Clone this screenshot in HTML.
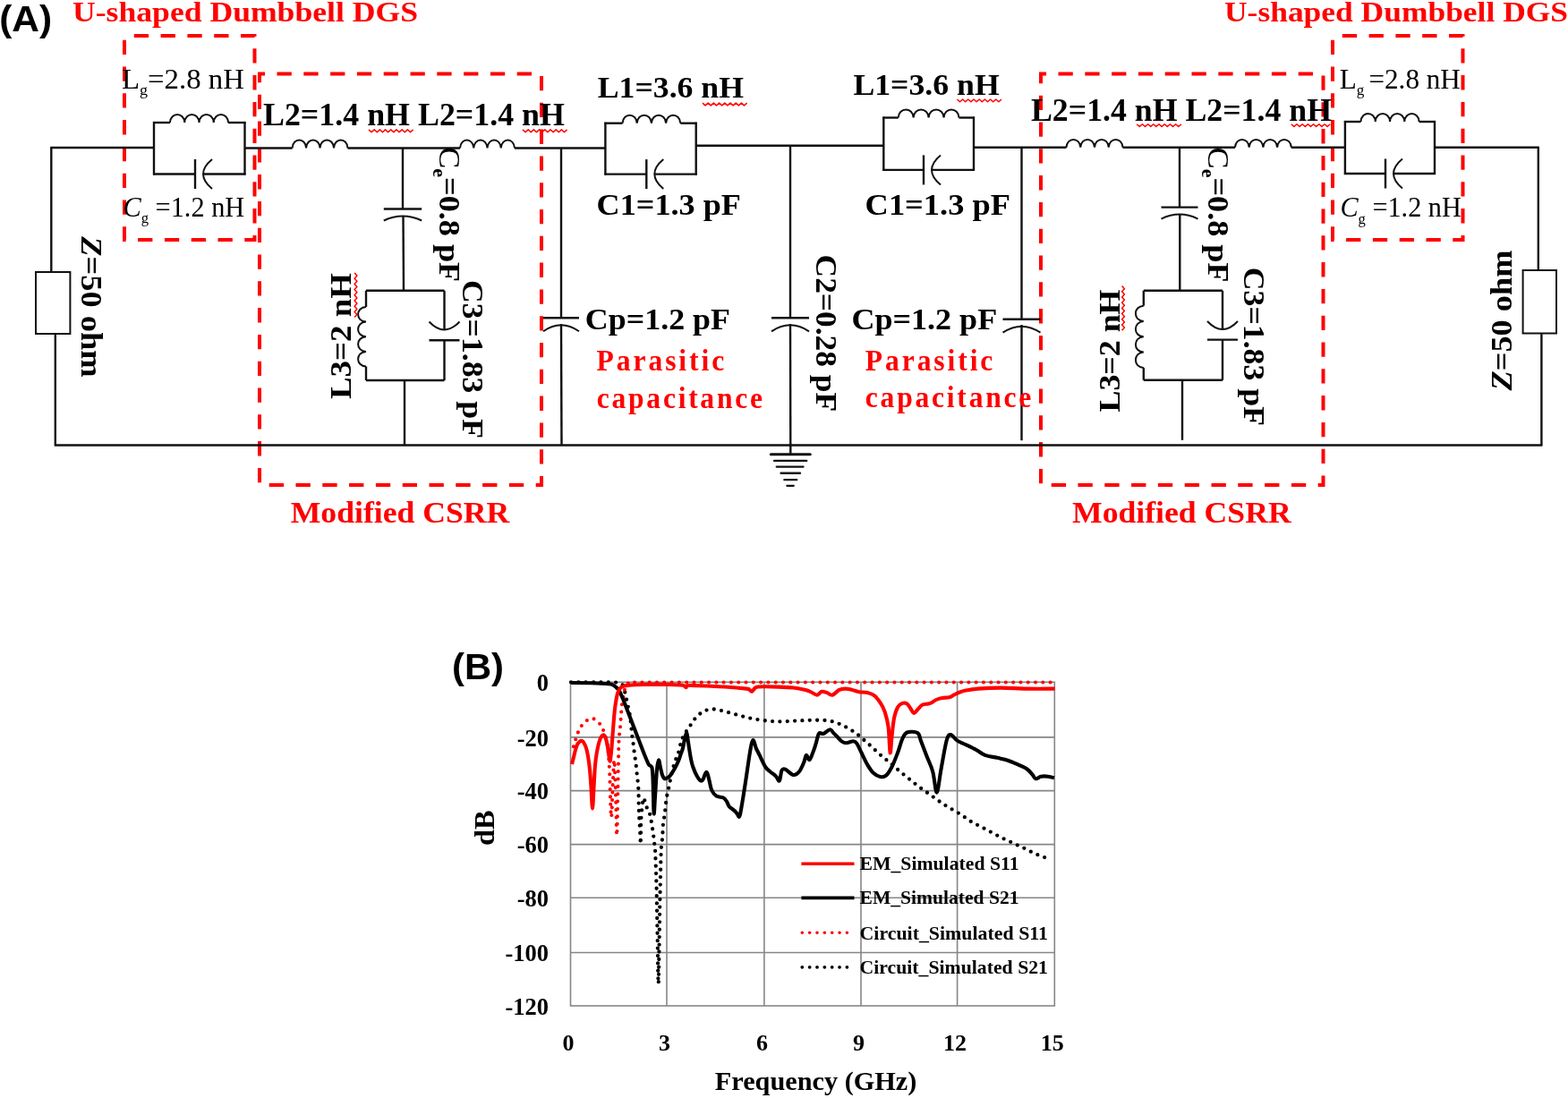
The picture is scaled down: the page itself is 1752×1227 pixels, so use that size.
<!DOCTYPE html>
<html><head><meta charset="utf-8"><title>Figure</title>
<style>html,body{margin:0;padding:0;background:#fff;} svg{display:block;}</style></head>
<body>
<svg width="1752" height="1227" viewBox="0 0 1752 1227">
<rect width="1752" height="1227" fill="#fff"/>
<g id="circuit">
<rect x="139" y="40" width="145.5" height="228" fill="none" stroke="#ff0000" stroke-width="4" stroke-dasharray="16.3 13.5" stroke-dashoffset="19.0"/>
<rect x="290" y="82.5" width="315" height="459.5" fill="none" stroke="#ff0000" stroke-width="4" stroke-dasharray="16.3 13.5" stroke-dashoffset="10.3"/>
<rect x="1163" y="82.5" width="315.5" height="459.5" fill="none" stroke="#ff0000" stroke-width="4" stroke-dasharray="16.3 13.5" stroke-dashoffset="10.3"/>
<rect x="1489" y="40" width="145.5" height="228" fill="none" stroke="#ff0000" stroke-width="4" stroke-dasharray="16.3 13.5" stroke-dashoffset="19.0"/>
<line x1="57.3" y1="164.5" x2="57.3" y2="304" stroke="#111" stroke-width="2.4"/>
<rect x="40" y="304" width="38.4" height="69" fill="none" stroke="#111" stroke-width="2"/>
<line x1="61.8" y1="373" x2="61.8" y2="497.5" stroke="#111" stroke-width="2.4"/>
<line x1="60.8" y1="497.5" x2="1723.4" y2="497.5" stroke="#111" stroke-width="2.4"/>
<line x1="1718.8" y1="164.7" x2="1718.8" y2="302" stroke="#111" stroke-width="2.4"/>
<rect x="1701.6" y="302" width="37.4" height="70.5" fill="none" stroke="#111" stroke-width="2"/>
<line x1="1722.4" y1="372.5" x2="1722.4" y2="497.5" stroke="#111" stroke-width="2.4"/>
<line x1="56.3" y1="165" x2="172" y2="165" stroke="#111" stroke-width="2.4"/>
<line x1="172" y1="136" x2="172" y2="195.5" stroke="#111" stroke-width="2.4"/>
<line x1="273.5" y1="136" x2="273.5" y2="195.5" stroke="#111" stroke-width="2.4"/>
<line x1="171" y1="137" x2="190" y2="137" stroke="#111" stroke-width="2.4"/>
<path d="M190,137 C190.50,125.12 205.75,125.12 206.25,137 C206.75,125.12 222.00,125.12 222.50,137 C223.00,125.12 238.25,125.12 238.75,137 C239.25,125.12 254.50,125.12 255.00,137" fill="none" stroke="#111" stroke-width="2"/>
<line x1="255" y1="137" x2="274.5" y2="137" stroke="#111" stroke-width="2.4"/>
<line x1="171" y1="194.5" x2="218" y2="194.5" stroke="#111" stroke-width="2.4"/>
<line x1="227" y1="194.5" x2="274.5" y2="194.5" stroke="#111" stroke-width="2.4"/>
<line x1="218" y1="178.0" x2="218" y2="211.0" stroke="#111" stroke-width="2.4"/>
<path d="M237,178.0 Q217.00,194.5 237,211.0" fill="none" stroke="#111" stroke-width="2"/>
<line x1="273.5" y1="165.5" x2="326.6" y2="165.5" stroke="#111" stroke-width="2.4"/>
<path d="M326.6,165.5 C327.10,153.62 341.58,153.62 342.08,165.5 C342.58,153.62 357.05,153.62 357.55,165.5 C358.05,153.62 372.52,153.62 373.02,165.5 C373.52,153.62 388.00,153.62 388.50,165.5" fill="none" stroke="#111" stroke-width="2"/>
<line x1="388.5" y1="165.5" x2="514" y2="165.5" stroke="#111" stroke-width="2.4"/>
<path d="M514,165.5 C514.50,153.62 528.75,153.62 529.25,165.5 C529.75,153.62 544.00,153.62 544.50,165.5 C545.00,153.62 559.25,153.62 559.75,165.5 C560.25,153.62 574.50,153.62 575.00,165.5" fill="none" stroke="#111" stroke-width="2"/>
<line x1="575" y1="165.5" x2="676.4" y2="165.5" stroke="#111" stroke-width="2.4"/>
<line x1="676.4" y1="136.7" x2="676.4" y2="195.6" stroke="#111" stroke-width="2.4"/>
<line x1="777.7" y1="136.7" x2="777.7" y2="195.6" stroke="#111" stroke-width="2.4"/>
<line x1="675.4" y1="137.7" x2="695.5" y2="137.7" stroke="#111" stroke-width="2.4"/>
<path d="M695.5,137.7 C696.00,125.82 711.20,125.82 711.70,137.7 C712.20,125.82 727.40,125.82 727.90,137.7 C728.40,125.82 743.60,125.82 744.10,137.7 C744.60,125.82 759.80,125.82 760.30,137.7" fill="none" stroke="#111" stroke-width="2"/>
<line x1="760.3" y1="137.7" x2="778.7" y2="137.7" stroke="#111" stroke-width="2.4"/>
<line x1="675.4" y1="194.6" x2="722.3" y2="194.6" stroke="#111" stroke-width="2.4"/>
<line x1="731.3" y1="194.6" x2="778.7" y2="194.6" stroke="#111" stroke-width="2.4"/>
<line x1="722.3" y1="178.1" x2="722.3" y2="211.1" stroke="#111" stroke-width="2.4"/>
<path d="M741.3,178.1 Q721.30,194.6 741.3,211.1" fill="none" stroke="#111" stroke-width="2"/>
<line x1="777.7" y1="162.7" x2="987.3" y2="162.7" stroke="#111" stroke-width="2.4"/>
<line x1="987.3" y1="130.5" x2="987.3" y2="190.9" stroke="#111" stroke-width="2.4"/>
<line x1="1088" y1="130.5" x2="1088" y2="190.9" stroke="#111" stroke-width="2.4"/>
<line x1="986.3" y1="131.5" x2="1003.7" y2="131.5" stroke="#111" stroke-width="2.4"/>
<path d="M1003.7,131.5 C1004.20,119.62 1020.15,119.62 1020.65,131.5 C1021.15,119.62 1037.10,119.62 1037.60,131.5 C1038.10,119.62 1054.05,119.62 1054.55,131.5 C1055.05,119.62 1071.00,119.62 1071.50,131.5" fill="none" stroke="#111" stroke-width="2"/>
<line x1="1071.5" y1="131.5" x2="1089" y2="131.5" stroke="#111" stroke-width="2.4"/>
<line x1="986.3" y1="189.9" x2="1032" y2="189.9" stroke="#111" stroke-width="2.4"/>
<line x1="1041" y1="189.9" x2="1089" y2="189.9" stroke="#111" stroke-width="2.4"/>
<line x1="1032" y1="173.4" x2="1032" y2="206.4" stroke="#111" stroke-width="2.4"/>
<path d="M1051,173.4 Q1031.00,189.9 1051,206.4" fill="none" stroke="#111" stroke-width="2"/>
<line x1="1088" y1="164.8" x2="1191.5" y2="164.8" stroke="#111" stroke-width="2.4"/>
<path d="M1191.5,164.8 C1192.00,152.93 1206.75,152.93 1207.25,164.8 C1207.75,152.93 1222.50,152.93 1223.00,164.8 C1223.50,152.93 1238.25,152.93 1238.75,164.8 C1239.25,152.93 1254.00,152.93 1254.50,164.8" fill="none" stroke="#111" stroke-width="2"/>
<line x1="1254.5" y1="164.8" x2="1380" y2="164.8" stroke="#111" stroke-width="2.4"/>
<path d="M1380,164.8 C1380.50,152.93 1395.20,152.93 1395.70,164.8 C1396.20,152.93 1410.90,152.93 1411.40,164.8 C1411.90,152.93 1426.60,152.93 1427.10,164.8 C1427.60,152.93 1442.30,152.93 1442.80,164.8" fill="none" stroke="#111" stroke-width="2"/>
<line x1="1442.8" y1="164.8" x2="1502.9" y2="164.8" stroke="#111" stroke-width="2.4"/>
<line x1="1502.9" y1="135" x2="1502.9" y2="195" stroke="#111" stroke-width="2.4"/>
<line x1="1603" y1="135" x2="1603" y2="195" stroke="#111" stroke-width="2.4"/>
<line x1="1501.9" y1="136" x2="1520.5" y2="136" stroke="#111" stroke-width="2.4"/>
<path d="M1520.5,136 C1521.00,124.12 1536.28,124.12 1536.78,136 C1537.28,124.12 1552.55,124.12 1553.05,136 C1553.55,124.12 1568.82,124.12 1569.32,136 C1569.82,124.12 1585.10,124.12 1585.60,136" fill="none" stroke="#111" stroke-width="2"/>
<line x1="1585.6" y1="136" x2="1604" y2="136" stroke="#111" stroke-width="2.4"/>
<line x1="1501.9" y1="194" x2="1548" y2="194" stroke="#111" stroke-width="2.4"/>
<line x1="1557" y1="194" x2="1604" y2="194" stroke="#111" stroke-width="2.4"/>
<line x1="1548" y1="177.5" x2="1548" y2="210.5" stroke="#111" stroke-width="2.4"/>
<path d="M1567,177.5 Q1547.00,194 1567,210.5" fill="none" stroke="#111" stroke-width="2"/>
<line x1="1603" y1="164.7" x2="1719.8" y2="164.7" stroke="#111" stroke-width="2.4"/>
<line x1="450" y1="165.5" x2="450" y2="233.5" stroke="#111" stroke-width="2.4"/>
<line x1="428.8" y1="233.5" x2="471.2" y2="233.5" stroke="#111" stroke-width="2.4"/>
<path d="M428.8,246.5 Q450,236.5 471.2,246.5" fill="none" stroke="#111" stroke-width="2"/>
<line x1="450.5" y1="241.5" x2="451" y2="324.8" stroke="#111" stroke-width="2.4"/>
<line x1="409" y1="324.8" x2="496.5" y2="324.8" stroke="#111" stroke-width="2.4"/>
<line x1="409" y1="425" x2="496.5" y2="425" stroke="#111" stroke-width="2.4"/>
<line x1="409" y1="324.8" x2="409" y2="343" stroke="#111" stroke-width="2.4"/>
<path d="M409,343 C397.12,343.50 397.12,359.12 409,359.62 C397.12,360.12 397.12,375.75 409,376.25 C397.12,376.75 397.12,392.38 409,392.88 C397.12,393.38 397.12,409.00 409,409.50" fill="none" stroke="#111" stroke-width="2"/>
<line x1="409" y1="409.5" x2="409" y2="425" stroke="#111" stroke-width="2.4"/>
<line x1="496.5" y1="324.8" x2="496.5" y2="368.5" stroke="#111" stroke-width="2.4"/>
<line x1="496.5" y1="380.3" x2="496.5" y2="425" stroke="#111" stroke-width="2.4"/>
<line x1="479.5" y1="380.3" x2="513.5" y2="380.3" stroke="#111" stroke-width="2.4"/>
<path d="M479.5,359.5 Q496.5,377.5 513.5,359.5" fill="none" stroke="#111" stroke-width="2"/>
<line x1="452" y1="425" x2="452" y2="497.5" stroke="#111" stroke-width="2.4"/>
<line x1="627" y1="165.5" x2="627" y2="355.3" stroke="#111" stroke-width="2.4"/>
<line x1="607" y1="355.3" x2="647" y2="355.3" stroke="#111" stroke-width="2.4"/>
<path d="M607,370.3 Q627,356.3 647,370.3" fill="none" stroke="#111" stroke-width="2"/>
<line x1="627" y1="362" x2="627.5" y2="497.5" stroke="#111" stroke-width="2.4"/>
<line x1="883" y1="162.7" x2="883" y2="355.3" stroke="#111" stroke-width="2.4"/>
<line x1="862" y1="355.3" x2="904" y2="355.3" stroke="#111" stroke-width="2.4"/>
<path d="M862,370.3 Q883,356.3 904,370.3" fill="none" stroke="#111" stroke-width="2"/>
<line x1="883" y1="362" x2="883.3" y2="507.5" stroke="#111" stroke-width="2.4"/>
<line x1="861.3" y1="507.8" x2="905.3" y2="507.8" stroke="#111" stroke-width="3" stroke-linecap="round"/>
<line x1="865" y1="514.9" x2="901.3" y2="514.9" stroke="#111" stroke-width="2.2" stroke-linecap="round"/>
<line x1="867.7" y1="521.6" x2="897.6" y2="521.6" stroke="#111" stroke-width="2.2" stroke-linecap="round"/>
<line x1="872.6" y1="528.7" x2="893.9" y2="528.7" stroke="#111" stroke-width="2.4" stroke-linecap="round"/>
<line x1="876.3" y1="536.2" x2="890.3" y2="536.2" stroke="#111" stroke-width="2.2" stroke-linecap="round"/>
<line x1="879.3" y1="542.8" x2="886.8" y2="542.8" stroke="#111" stroke-width="2.2" stroke-linecap="round"/>
<line x1="1141.5" y1="164.8" x2="1141.5" y2="356.7" stroke="#111" stroke-width="2.4"/>
<line x1="1120.5" y1="356.7" x2="1162.5" y2="356.7" stroke="#111" stroke-width="2.4"/>
<path d="M1120.5,371.7 Q1141.5,357.7 1162.5,371.7" fill="none" stroke="#111" stroke-width="2"/>
<line x1="1141.5" y1="363" x2="1141.5" y2="492.2" stroke="#111" stroke-width="2.4"/>
<line x1="1318" y1="164.8" x2="1318" y2="231.6" stroke="#111" stroke-width="2.4"/>
<line x1="1297.5" y1="231.6" x2="1338.5" y2="231.6" stroke="#111" stroke-width="2.4"/>
<path d="M1297.5,244.6 Q1318,234.6 1338.5,244.6" fill="none" stroke="#111" stroke-width="2"/>
<line x1="1318.3" y1="239.5" x2="1318.3" y2="324.8" stroke="#111" stroke-width="2.4"/>
<line x1="1277.8" y1="324.8" x2="1366" y2="324.8" stroke="#111" stroke-width="2.4"/>
<line x1="1277.8" y1="424.7" x2="1366" y2="424.7" stroke="#111" stroke-width="2.4"/>
<line x1="1277.8" y1="324.8" x2="1277.8" y2="341.7" stroke="#111" stroke-width="2.4"/>
<path d="M1277.8,341.7 C1265.92,342.20 1265.92,358.50 1277.8,359.00 C1265.92,359.50 1265.92,375.80 1277.8,376.30 C1265.92,376.80 1265.92,393.10 1277.8,393.60 C1265.92,394.10 1265.92,410.40 1277.8,410.90" fill="none" stroke="#111" stroke-width="2"/>
<line x1="1277.8" y1="410.9" x2="1277.8" y2="424.7" stroke="#111" stroke-width="2.4"/>
<line x1="1366" y1="324.8" x2="1366" y2="368" stroke="#111" stroke-width="2.4"/>
<line x1="1366" y1="379.6" x2="1366" y2="424.7" stroke="#111" stroke-width="2.4"/>
<line x1="1349" y1="379.6" x2="1383" y2="379.6" stroke="#111" stroke-width="2.4"/>
<path d="M1349,359 Q1366,377 1383,359" fill="none" stroke="#111" stroke-width="2"/>
<line x1="1321" y1="424.7" x2="1321" y2="491.8" stroke="#111" stroke-width="2.4"/>
<text x="-0.8" y="34.6" font-family='"Liberation Sans", Arial, sans-serif' font-size="41.5" font-weight="bold" fill="#000" textLength="59" lengthAdjust="spacingAndGlyphs">(A)</text>
<text x="81" y="24.2" font-family='"Liberation Serif", serif' font-size="32" font-weight="bold" fill="#ff0000" textLength="386" lengthAdjust="spacingAndGlyphs">U-shaped Dumbbell DGS</text>
<text x="1368" y="24.2" font-family='"Liberation Serif", serif' font-size="32" font-weight="bold" fill="#ff0000" textLength="384" lengthAdjust="spacingAndGlyphs">U-shaped Dumbbell DGS</text>
<text x="136" y="99" font-family='"Liberation Serif", serif' font-size="31" font-weight="normal" fill="#000" textLength="137" lengthAdjust="spacingAndGlyphs">L<tspan font-size="17" dy="7.2">g</tspan><tspan dx="0" dy="-7.2">=2.8 nH</tspan></text>
<text x="137.4" y="242" font-family='"Liberation Serif", serif' font-size="31" font-weight="normal" fill="#000" textLength="135.8" lengthAdjust="spacingAndGlyphs"><tspan font-style="italic">C</tspan><tspan font-size="17" dy="7.2">g</tspan><tspan dy="-7.2"> =1.2 nH</tspan></text>
<text x="1496.8" y="99" font-family='"Liberation Serif", serif' font-size="31" font-weight="normal" fill="#000" textLength="135.1" lengthAdjust="spacingAndGlyphs">L<tspan font-size="17" dy="7.2">g</tspan><tspan dx="5" dy="-7.2">=2.8 nH</tspan></text>
<text x="1497.4" y="242.3" font-family='"Liberation Serif", serif' font-size="31" font-weight="normal" fill="#000" textLength="135.4" lengthAdjust="spacingAndGlyphs"><tspan font-style="italic">C</tspan><tspan font-size="17" dy="7.2">g</tspan><tspan dy="-7.2"> =1.2 nH</tspan></text>
<text x="294" y="140" font-family='"Liberation Serif", serif' font-size="35" font-weight="bold" fill="#000" textLength="337" lengthAdjust="spacingAndGlyphs">L2=1.4 nH L2=1.4 nH</text>
<text x="1152" y="135" font-family='"Liberation Serif", serif' font-size="35" font-weight="bold" fill="#000" textLength="336" lengthAdjust="spacingAndGlyphs">L2=1.4 nH L2=1.4 nH</text>
<text x="667.8" y="109.3" font-family='"Liberation Serif", serif' font-size="33" font-weight="bold" fill="#000" textLength="163.2" lengthAdjust="spacingAndGlyphs">L1=3.6 nH</text>
<text x="953.4" y="105.6" font-family='"Liberation Serif", serif' font-size="33" font-weight="bold" fill="#000" textLength="163.3" lengthAdjust="spacingAndGlyphs">L1=3.6 nH</text>
<text x="666.6" y="239.8" font-family='"Liberation Serif", serif' font-size="33" font-weight="bold" fill="#000" textLength="161.4" lengthAdjust="spacingAndGlyphs">C1=1.3 pF</text>
<text x="966.6" y="239.8" font-family='"Liberation Serif", serif' font-size="33" font-weight="bold" fill="#000" textLength="162.4" lengthAdjust="spacingAndGlyphs">C1=1.3 pF</text>
<text x="653.8" y="367.8" font-family='"Liberation Serif", serif' font-size="33" font-weight="bold" fill="#000" textLength="162.2" lengthAdjust="spacingAndGlyphs">Cp=1.2 pF</text>
<text x="951.4" y="368" font-family='"Liberation Serif", serif' font-size="33" font-weight="bold" fill="#000" textLength="162.8" lengthAdjust="spacingAndGlyphs">Cp=1.2 pF</text>
<text transform="translate(666.6,413.5) scale(0.93,1)" x="0" y="0" font-family='"Liberation Serif", serif' font-size="34" font-weight="bold" fill="#ff0000" textLength="153.33" lengthAdjust="spacing">Parasitic</text>
<text transform="translate(666.8,456.3) scale(0.93,1)" x="0" y="0" font-family='"Liberation Serif", serif' font-size="34" font-weight="bold" fill="#ff0000" textLength="199.14" lengthAdjust="spacing">capacitance</text>
<text transform="translate(966.8,413.8) scale(0.93,1)" x="0" y="0" font-family='"Liberation Serif", serif' font-size="34" font-weight="bold" fill="#ff0000" textLength="153.33" lengthAdjust="spacing">Parasitic</text>
<text transform="translate(966.8,454.7) scale(0.93,1)" x="0" y="0" font-family='"Liberation Serif", serif' font-size="34" font-weight="bold" fill="#ff0000" textLength="199.57" lengthAdjust="spacing">capacitance</text>
<text x="324.7" y="584.1" font-family='"Liberation Serif", serif' font-size="33" font-weight="bold" fill="#ff0000" textLength="244.7" lengthAdjust="spacingAndGlyphs">Modified CSRR</text>
<text x="1198" y="584.1" font-family='"Liberation Serif", serif' font-size="33" font-weight="bold" fill="#ff0000" textLength="244.7" lengthAdjust="spacingAndGlyphs">Modified CSRR</text>
<text transform="translate(90.7,264.3) rotate(90)" x="0" y="0" font-family='"Liberation Serif", serif' font-size="34" font-weight="bold" fill="#000" textLength="157.4" lengthAdjust="spacingAndGlyphs"><tspan font-style="italic">Z</tspan>=50 ohm</text>
<text transform="translate(1689.3,436.4) rotate(-90)" x="0" y="0" font-family='"Liberation Serif", serif' font-size="34" font-weight="bold" fill="#000" textLength="156.8" lengthAdjust="spacingAndGlyphs"><tspan font-style="italic">Z</tspan>=50 ohm</text>
<text transform="translate(391.8,446) rotate(-90)" x="0" y="0" font-family='"Liberation Serif", serif' font-size="33" font-weight="bold" fill="#000" textLength="141" lengthAdjust="spacingAndGlyphs">L3=2 nH</text>
<text transform="translate(1251,460.5) rotate(-90)" x="0" y="0" font-family='"Liberation Serif", serif' font-size="33" font-weight="bold" fill="#000" textLength="137" lengthAdjust="spacingAndGlyphs">L3=2 nH</text>
<text transform="translate(517,313) rotate(90)" x="0" y="0" font-family='"Liberation Serif", serif' font-size="33" font-weight="bold" fill="#000" textLength="177" lengthAdjust="spacingAndGlyphs">C3=1.83 pF</text>
<text transform="translate(1390,298.7) rotate(90)" x="0" y="0" font-family='"Liberation Serif", serif' font-size="33" font-weight="bold" fill="#000" textLength="177.3" lengthAdjust="spacingAndGlyphs">C3=1.83 pF</text>
<text transform="translate(912,284.6) rotate(90)" x="0" y="0" font-family='"Liberation Serif", serif' font-size="33" font-weight="bold" fill="#000" textLength="175.4" lengthAdjust="spacingAndGlyphs">C2=0.28 pF</text>
<text transform="translate(490.8,164.2) rotate(90)" x="0" y="0" font-family='"Liberation Serif", serif' font-size="33" font-weight="bold" fill="#000" textLength="151" lengthAdjust="spacingAndGlyphs"><tspan font-weight="normal">C</tspan><tspan font-size="20" dx="0" dy="7">e</tspan><tspan dy="-7">=0.8 pF</tspan></text>
<text transform="translate(1349.5,164.6) rotate(90)" x="0" y="0" font-family='"Liberation Serif", serif' font-size="33" font-weight="bold" fill="#000" textLength="151" lengthAdjust="spacingAndGlyphs"><tspan font-weight="normal">C</tspan><tspan font-size="20" dx="0" dy="7">e</tspan><tspan dy="-7">=0.8 pF</tspan></text>
<polyline points="412,144.9 415.1,147.7 418.2,144.9 421.3,147.7 424.4,144.9 427.5,147.7 430.6,144.9 433.7,147.7 436.8,144.9 439.9,147.7 443.0,144.9 446.1,147.7 449.2,144.9 452.3,147.7 455.4,144.9 458.5,147.7 461.6,144.9" fill="none" stroke="#ff0000" stroke-width="1.5" stroke-linejoin="round" />
<polyline points="584,144.9 587.1,147.7 590.2,144.9 593.3,147.7 596.4,144.9 599.5,147.7 602.6,144.9 605.7,147.7 608.8,144.9 611.9,147.7 615.0,144.9 618.1,147.7 621.2,144.9 624.3,147.7 627.4,144.9 630.5,147.7 633.6,144.9" fill="none" stroke="#ff0000" stroke-width="1.5" stroke-linejoin="round" />
<polyline points="785,115.1 788.1,117.9 791.2,115.1 794.3,117.9 797.4,115.1 800.5,117.9 803.6,115.1 806.7,117.9 809.8,115.1 812.9,117.9 816.0,115.1 819.1,117.9 822.2,115.1 825.3,117.9 828.4,115.1 831.5,117.9 834.6,115.1" fill="none" stroke="#ff0000" stroke-width="1.5" stroke-linejoin="round" />
<polyline points="1069.4,111.0 1072.5,113.8 1075.6,111.0 1078.7,113.8 1081.8,111.0 1084.9,113.8 1088.0,111.0 1091.1,113.8 1094.2,111.0 1097.3,113.8 1100.4,111.0 1103.5,113.8 1106.6,111.0 1109.7,113.8 1112.8,111.0 1115.9,113.8 1119.0,111.0" fill="none" stroke="#ff0000" stroke-width="1.5" stroke-linejoin="round" />
<polyline points="1270.2,138.7 1273.3,141.5 1276.4,138.7 1279.5,141.5 1282.6,138.7 1285.7,141.5 1288.8,138.7 1291.9,141.5 1295.0,138.7 1298.1,141.5 1301.2,138.7 1304.3,141.5 1307.4,138.7 1310.5,141.5 1313.6,138.7 1316.7,141.5 1319.8,138.7" fill="none" stroke="#ff0000" stroke-width="1.5" stroke-linejoin="round" />
<polyline points="1442.8,138.7 1445.9,141.5 1449.0,138.7 1452.1,141.5 1455.2,138.7 1458.3,141.5 1461.4,138.7 1464.5,141.5 1467.6,138.7 1470.7,141.5 1473.8,138.7 1476.9,141.5 1480.0,138.7 1483.1,141.5 1486.2,138.7" fill="none" stroke="#ff0000" stroke-width="1.5" stroke-linejoin="round" />
<polyline points="396.1,305 398.9,308.1 396.1,311.2 398.9,314.3 396.1,317.4 398.9,320.5 396.1,323.6 398.9,326.7 396.1,329.8 398.9,332.9 396.1,336.0 398.9,339.1 396.1,342.2 398.9,345.3 396.1,348.4 398.9,351.5 396.1,354.6" fill="none" stroke="#ff0000" stroke-width="1.5" stroke-linejoin="round" />
<polyline points="1253.6,319.6 1256.4,322.7 1253.6,325.8 1256.4,328.9 1253.6,332.0 1256.4,335.1 1253.6,338.2 1256.4,341.3 1253.6,344.4 1256.4,347.5 1253.6,350.6 1256.4,353.7 1253.6,356.8 1256.4,359.9 1253.6,363.0 1256.4,366.1 1253.6,369.2" fill="none" stroke="#ff0000" stroke-width="1.5" stroke-linejoin="round" />
</g>
<g id="chart">
<line x1="745" y1="762.3" x2="745" y2="1124" stroke="#868686" stroke-width="1.6"/>
<line x1="853.9" y1="762.3" x2="853.9" y2="1124" stroke="#868686" stroke-width="1.6"/>
<line x1="962" y1="762.3" x2="962" y2="1124" stroke="#868686" stroke-width="1.6"/>
<line x1="1069.6" y1="762.3" x2="1069.6" y2="1124" stroke="#868686" stroke-width="1.6"/>
<line x1="637.5" y1="823.9" x2="1178.3" y2="823.9" stroke="#868686" stroke-width="1.6"/>
<line x1="637.5" y1="883.6" x2="1178.3" y2="883.6" stroke="#868686" stroke-width="1.6"/>
<line x1="637.5" y1="943.6" x2="1178.3" y2="943.6" stroke="#868686" stroke-width="1.6"/>
<line x1="637.5" y1="1003.2" x2="1178.3" y2="1003.2" stroke="#868686" stroke-width="1.6"/>
<line x1="637.5" y1="1064.5" x2="1178.3" y2="1064.5" stroke="#868686" stroke-width="1.6"/>
<rect x="637.5" y="762.3" width="540.8" height="361.7" fill="none" stroke="#868686" stroke-width="1.6"/>
<path d="M638,762.3 C645.0,762.3 671.4,762.4 680,762.5 C688.6,762.6 687.3,762.5 689.6,762.8 C691.9,763.1 692.9,763.9 694,764.5 C695.1,765.1 695.6,764.8 696.4,766.6 C697.2,768.4 697.9,772.3 698.6,775.1 C699.3,777.9 699.8,780.8 700.4,783.6 C701.0,786.4 701.6,788.9 702.2,791.7 C702.8,794.5 703.5,797.4 704,800.2 C704.5,803.0 704.6,805.5 704.9,808.3 C705.2,811.1 705.5,814.0 705.8,816.8 C706.1,819.6 706.3,822.5 706.7,825.3 C707.1,828.1 707.6,830.9 708,833.8 C708.4,836.6 708.5,839.5 708.9,842.4 C709.3,845.2 709.8,848.1 710.2,850.9 C710.6,853.7 710.8,856.1 711.1,859 C711.4,861.9 711.7,865.1 712,868 C712.3,870.9 712.8,873.8 713,876.6 C713.2,879.4 713.4,882.2 713.5,885 C713.6,887.8 713.6,890.8 713.6,893.6 C713.6,896.4 713.7,899.3 713.8,902 C713.9,904.7 713.9,907.2 714,910 C714.1,912.8 714.4,915.8 714.6,918.6 C714.8,921.4 714.9,924.2 715,927 C715.1,929.8 715.4,932.8 715.5,935.5 C715.6,938.2 715.6,943.3 715.7,943.2 C715.8,943.1 715.9,939.2 716,935 C716.1,930.8 715.9,923.7 716.2,918 C716.5,912.3 717.1,905.0 717.6,900.6 C718.1,896.2 718.5,892.4 719.1,891.8 C719.7,891.2 720.4,895.1 721,897 C721.6,898.9 722.3,901.5 723,903 C723.7,904.5 724.3,904.2 725,906 C725.7,907.8 726.4,911.1 727,913.8 C727.6,916.5 727.9,919.1 728.4,922 C728.9,924.9 729.4,928.1 729.8,931 C730.2,933.9 730.5,936.5 730.8,939.2 C731.1,942.0 731.5,944.7 731.8,947.5 C732.0,950.3 732.0,948.7 732.3,955.8 C732.6,962.9 733.1,976.0 733.5,990 C733.9,1004.0 734.1,1021.8 734.5,1040 C734.9,1058.2 735.3,1095.9 735.6,1099.2 C735.9,1102.5 736.2,1076.5 736.5,1060 C736.8,1043.5 737.1,1017.8 737.5,1000 C737.9,982.2 738.3,962.6 738.6,953.4 C738.9,944.2 738.9,947.9 739.1,945 C739.4,942.1 739.9,939.1 740.1,936.3 C740.4,933.5 740.4,930.9 740.6,928 C740.8,925.1 740.8,922.1 741.1,919.2 C741.4,916.4 742.2,913.7 742.6,910.9 C743.0,908.1 743.2,905.5 743.5,902.6 C743.8,899.8 744.1,896.6 744.5,893.8 C744.9,890.9 745.4,888.3 746,885.5 C746.6,882.7 747.4,880.0 748,877.1 C748.6,874.2 748.7,872.0 749.6,868 C750.5,864.0 752.1,857.5 753.5,853 C754.9,848.5 756.7,845.4 758,841.3 C759.3,837.2 760.1,831.8 761.3,828.3 C762.5,824.8 763.6,822.5 765,820 C766.4,817.5 768.2,815.6 769.8,813.3 C771.3,811.0 772.6,808.3 774.3,806 C776.0,803.7 778.1,801.2 780.2,799.3 C782.3,797.4 784.3,795.9 786.7,794.7 C789.1,793.6 792.1,792.6 794.8,792.4 C797.5,792.2 800.3,792.9 803,793.4 C805.7,793.9 808.2,794.7 810.9,795.4 C813.6,796.1 816.6,796.9 819.3,797.6 C822.0,798.3 824.6,799.1 827.2,799.8 C829.8,800.5 832.4,801.3 835,801.9 C837.6,802.5 840.1,803.0 842.8,803.5 C845.5,804.0 848.5,804.4 851.3,804.8 C854.1,805.2 857.1,805.5 859.8,805.8 C862.5,806.0 864.9,806.2 867.6,806.3 C870.3,806.4 873.2,806.4 876,806.3 C878.8,806.2 881.9,805.9 884.6,805.8 C887.3,805.6 889.7,805.5 892.4,805.4 C895.1,805.3 898.1,805.1 900.9,805 C903.7,804.9 906.3,804.8 909.1,804.8 C911.9,804.8 914.8,804.7 917.6,804.8 C920.4,804.9 923.4,805.0 926.1,805.4 C928.8,805.8 931.3,806.5 933.9,807.4 C936.5,808.3 939.2,809.4 941.7,810.6 C944.2,811.8 946.5,813.2 948.9,814.6 C951.3,816.0 953.9,817.5 956.1,819.1 C958.3,820.7 960.2,822.5 962.3,824.3 C964.4,826.1 966.4,827.9 968.5,829.8 C970.6,831.6 972.9,833.5 975,835.4 C977.1,837.3 978.8,839.4 980.9,841.3 C983.0,843.1 985.3,844.8 987.4,846.5 C989.5,848.2 991.2,850.0 993.3,851.7 C995.4,853.5 997.6,855.1 999.8,857 C1002.0,858.9 1004.1,861.0 1006.3,862.8 C1008.5,864.6 1010.6,866.2 1012.8,868 C1015.0,869.8 1017.1,871.5 1019.3,873.3 C1021.5,875.0 1023.6,876.8 1025.9,878.5 C1028.2,880.2 1030.7,882.1 1033,883.7 C1035.3,885.3 1037.3,886.7 1039.6,888.3 C1041.9,889.9 1044.4,891.9 1046.7,893.5 C1049.0,895.1 1051.0,896.5 1053.3,898 C1055.6,899.5 1058.0,901.2 1060.4,902.6 C1062.8,904.0 1065.0,905.0 1067.5,906.5 C1070.0,908.0 1072.8,909.7 1075.2,911.3 C1077.6,912.9 1079.7,914.7 1082,916.2 C1084.3,917.7 1086.5,918.9 1088.9,920.2 C1091.4,921.5 1094.2,922.8 1096.7,924.1 C1099.2,925.4 1101.1,926.7 1103.6,928 C1106.0,929.3 1109.0,930.6 1111.4,931.9 C1113.8,933.2 1115.8,934.6 1118.2,935.8 C1120.7,937.0 1123.5,938.1 1126.1,939.3 C1128.7,940.5 1131.3,942.0 1133.9,943.2 C1136.5,944.4 1139.1,945.4 1141.7,946.6 C1144.3,947.8 1146.9,949.2 1149.5,950.5 C1152.1,951.8 1154.7,953.3 1157.3,954.4 C1159.9,955.5 1162.6,956.3 1165.2,957.3 C1167.8,958.3 1171.7,960.0 1173,960.6" fill="none" stroke="#000" stroke-width="4.3" stroke-linejoin="round" stroke-dasharray="0 8.35" stroke-linecap="round"/>
<path d="M640.8,834.3 C641.2,832.9 642.5,828.5 643.4,825.8 C644.3,823.1 644.9,820.5 646.1,817.9 C647.3,815.3 648.6,812.5 650.4,810.3 C652.1,808.1 654.9,805.6 656.6,804.5 C658.3,803.4 659.2,803.6 660.5,803.5 C661.8,803.4 662.8,802.8 664.5,803.8 C666.2,804.8 669.1,807.4 670.8,809.6 C672.4,811.8 673.4,814.2 674.4,816.8 C675.4,819.4 676.2,822.0 677,825 C677.8,828.0 678.3,829.2 679,835 C679.7,840.8 680.3,847.0 681,860 C681.7,873.0 682.3,911.3 683,913 C683.7,914.7 684.4,880.5 685,870 C685.6,859.5 686.0,846.7 686.5,850 C687.0,853.3 687.5,876.0 688,890 C688.5,904.0 688.8,933.7 689.2,933.7 C689.6,933.7 689.9,904.0 690.2,890 C690.5,876.0 690.8,859.8 691,850 C691.2,840.2 691.2,835.6 691.4,831 C691.5,826.4 691.7,825.4 691.9,822.6 C692.1,819.8 692.5,817.2 692.8,814.4 C693.1,811.6 693.3,808.6 693.5,805.8 C693.7,803.0 693.9,800.4 694.1,797.5 C694.3,794.6 694.3,791.4 694.7,788.6 C695.1,785.8 695.7,783.6 696.3,780.5 C696.9,777.4 697.4,772.9 698.1,770.2 C698.9,767.5 699.8,765.5 700.8,764.3 C701.8,763.1 703.5,763.0 704,762.8" fill="none" stroke="#ff0000" stroke-width="4.1" stroke-linejoin="round" stroke-dasharray="0 8.35" stroke-linecap="round"/>
<line x1="709.1" y1="762.5" x2="1179" y2="762.5" stroke="#ff0000" stroke-width="4.1" stroke-dasharray="0 8.295" stroke-linecap="round"/>
<path d="M638,763 C641.7,763.0 653.0,763.1 660,763.3 C667.0,763.5 675.8,763.9 680,764.3 C684.2,764.7 683.5,764.8 685,765.5 C686.5,766.2 687.8,767.4 689,768.5 C690.2,769.6 691.0,770.3 692,772 C693.0,773.7 694.0,776.2 695,778.5 C696.0,780.8 696.7,782.6 698,786 C699.3,789.4 701.3,794.7 703,799 C704.7,803.3 706.3,807.7 708,812 C709.7,816.3 711.3,820.7 713,825 C714.7,829.3 716.5,834.2 718,838 C719.5,841.8 720.8,845.2 722,848 C723.2,850.8 723.9,852.9 725,854.5 C726.1,856.1 727.6,855.0 728.4,857.6 C729.1,860.2 729.1,861.4 729.5,870 C729.9,878.6 730.2,905.7 730.6,909 C731.0,912.3 731.4,898.2 732,890 C732.6,881.8 733.3,866.8 734,860 C734.7,853.2 735.3,849.8 736,849.5 C736.7,849.2 737.3,855.2 738,858 C738.7,860.8 739.3,864.0 740,866 C740.7,868.0 741.6,869.4 742.4,870 C743.2,870.6 744.0,869.9 745,869.5 C746.0,869.1 746.9,869.0 748.3,867.4 C749.7,865.8 751.9,862.4 753.5,859.6 C755.1,856.8 756.8,853.2 758,850.4 C759.2,847.6 759.9,845.0 760.7,842.6 C761.5,840.2 762.3,838.8 763,836 C763.7,833.2 764.3,828.9 765,826 C765.7,823.1 766.6,818.5 767.2,818.5 C767.8,818.5 768.0,822.6 768.5,826 C769.0,829.4 769.8,835.0 770.4,838.7 C771.0,842.4 771.4,845.0 772,848 C772.6,851.0 773.1,853.8 774.3,857 C775.4,860.2 777.4,864.8 778.9,867.4 C780.4,870.0 782.3,872.2 783.5,872.6 C784.7,873.0 785.4,871.1 786,870 C786.6,868.9 786.9,867.2 787.4,866 C787.9,864.8 788.7,862.8 789.3,862.8 C789.9,862.8 790.5,864.4 791,866 C791.5,867.6 791.9,869.8 792.6,872.6 C793.3,875.4 793.9,880.2 795.2,883 C796.5,885.8 798.2,888.2 800.4,889.6 C802.6,891.0 806.3,890.4 808.3,891.5 C810.3,892.6 811.1,894.4 812.2,896 C813.3,897.6 813.3,899.5 814.8,901.3 C816.3,903.0 819.8,905.0 821.3,906.5 C822.8,908.0 823.3,908.9 824,910 C824.7,911.1 825.0,913.0 825.5,913 C826.0,913.0 826.2,913.3 827,910 C827.8,906.7 829.0,899.0 830,893 C831.0,887.0 831.6,882.9 833,873.9 C834.4,864.9 836.9,846.5 838.3,838.7 C839.7,830.9 840.4,827.4 841.5,827 C842.6,826.6 843.6,833.3 844.8,836.1 C846.0,838.9 847.0,840.4 848.7,843.9 C850.4,847.4 853.2,854.0 855.2,857 C857.2,860.0 858.4,860.5 860.4,862.2 C862.4,863.9 865.2,865.7 867,867.4 C868.8,869.1 869.8,873.7 870.9,872.6 C872.0,871.5 872.4,863.1 873.5,860.9 C874.6,858.7 875.2,858.8 877.4,859.6 C879.6,860.5 883.9,865.6 886.5,866 C889.1,866.4 891.0,864.6 893,862.2 C895.0,859.8 897.0,854.8 898.3,851.7 C899.6,848.7 899.8,844.3 900.9,843.9 C902.0,843.5 903.2,850.0 904.6,849.1 C906.0,848.2 907.9,841.7 909.1,838.7 C910.3,835.7 910.7,834.0 911.7,830.9 C912.7,827.8 913.6,821.6 915,819.8 C916.4,817.9 918.1,820.6 920.2,819.8 C922.3,819.0 925.5,815.3 927.4,815.2 C929.2,815.1 930.0,817.8 931.3,819.1 C932.6,820.4 933.7,821.5 935.2,823 C936.7,824.5 938.7,827.1 940.4,828.3 C942.1,829.5 943.4,830.2 945.6,830.2 C947.8,830.2 951.5,828.2 953.5,828.3 C955.5,828.4 955.9,828.7 957.4,830.9 C958.9,833.1 960.6,837.4 962.6,841.3 C964.6,845.2 966.9,850.6 969.1,854.3 C971.3,858.0 973.2,861.2 975.6,863.5 C978.0,865.8 981.1,867.5 983.5,868 C985.9,868.5 987.8,868.5 990,866.7 C992.2,864.9 994.3,861.2 996.5,857 C998.7,852.8 1001.0,846.5 1003,841.3 C1005.0,836.1 1006.5,829.4 1008.3,825.6 C1010.0,821.8 1010.7,819.6 1013.5,818.5 C1016.3,817.4 1022.6,817.5 1025.2,819.1 C1027.8,820.7 1027.4,823.9 1029.1,828.3 C1030.8,832.6 1033.4,839.6 1035.6,845.2 C1037.8,850.9 1040.3,855.5 1042.2,862.2 C1044.1,868.9 1045.2,885.8 1046.7,885.6 C1048.2,885.4 1049.5,870.7 1051.3,860.9 C1053.1,851.1 1055.9,833.6 1057.8,827 C1059.7,820.4 1060.4,821.0 1062.4,821.1 C1064.4,821.2 1066.8,825.8 1069.6,827.6 C1072.4,829.4 1075.5,830.4 1079.1,832.1 C1082.6,833.8 1087.3,836.0 1090.9,838 C1094.5,840.0 1096.7,842.4 1100.6,843.9 C1104.5,845.4 1110.0,845.8 1114.3,846.8 C1118.5,847.8 1122.2,848.4 1126.1,849.7 C1130.0,851.0 1134.2,853.0 1137.8,854.6 C1141.4,856.2 1145.0,857.7 1147.6,859.5 C1150.2,861.3 1151.8,863.6 1153.4,865.4 C1155.0,867.2 1155.7,869.9 1157.3,870.3 C1158.9,870.7 1160.9,868.1 1163.2,867.7 C1165.5,867.3 1168.5,867.4 1171,867.7 C1173.5,868.0 1176.8,869.0 1177.9,869.3" fill="none" stroke="#000" stroke-width="4.1" stroke-linejoin="round" />
<path d="M639,854 C639.3,852.7 640.3,848.7 641,846 C641.7,843.3 642.3,840.3 643,838 C643.7,835.7 644.2,833.6 645,832 C645.8,830.4 647.2,829.2 648,828.5 C648.8,827.8 649.3,827.8 650,828 C650.7,828.2 651.2,828.2 652,829.5 C652.8,830.8 654.2,833.4 655,836 C655.8,838.6 656.3,841.0 657,845 C657.7,849.0 658.4,854.2 659,860 C659.6,865.8 660.0,872.8 660.5,880 C661.0,887.2 661.5,903.5 662,903.5 C662.5,903.5 663.0,888.1 663.5,880 C664.0,871.9 664.4,861.7 665,855 C665.6,848.3 666.2,844.3 667,840 C667.8,835.7 668.7,831.8 669.5,829 C670.3,826.2 671.2,824.3 672,823 C672.8,821.7 673.6,821.1 674.4,821.3 C675.1,821.5 675.8,822.2 676.5,824 C677.2,825.8 677.9,829.0 678.5,832 C679.1,835.0 679.5,838.9 680,842 C680.5,845.1 681.1,850.0 681.5,850.5 C681.9,851.0 682.2,847.6 682.5,845 C682.8,842.4 683.1,840.0 683.5,835 C683.9,830.0 684.5,821.3 685,815 C685.5,808.7 686.0,802.0 686.5,797 C687.0,792.0 687.4,788.7 688,785 C688.6,781.3 689.2,777.7 690,775 C690.8,772.3 691.8,770.4 693,769 C694.2,767.6 695.0,767.1 697,766.5 C699.0,765.9 701.2,765.8 705,765.5 C708.8,765.2 713.3,765.1 720,765 C726.7,764.9 738.3,764.9 745,765 C751.7,765.1 756.8,765.3 760,765.5 C763.2,765.7 762.9,765.5 764,766 C765.1,766.5 765.7,768.3 766.5,768.3 C767.3,768.3 765.1,766.3 769,766 C772.9,765.7 783.2,766.2 790,766.5 C796.8,766.8 802.7,767.0 810,767.5 C817.3,768.0 829.5,769.1 834,769.6 C838.5,770.1 836.0,770.0 837,770.5 C838.0,771.0 839.2,773.0 840.2,772.8 C841.2,772.6 841.8,770.4 843,769.5 C844.2,768.6 842.9,767.8 847.4,767.5 C851.9,767.2 863.5,767.4 870,767.6 C876.5,767.8 881.5,768.0 886.5,768.5 C891.5,769.0 896.7,770.1 900,770.9 C903.3,771.7 904.3,772.5 906.5,773.5 C908.7,774.5 911.0,776.8 913,776.7 C915.0,776.6 916.4,773.2 918.3,772.8 C920.1,772.4 922.1,773.5 924.1,774.1 C926.1,774.8 927.7,777.2 930,776.7 C932.3,776.2 935.4,772.1 937.8,770.9 C940.2,769.7 941.9,769.6 944.3,769.6 C946.7,769.6 949.6,770.3 952.2,770.9 C954.8,771.5 957.2,772.7 960,773.2 C962.8,773.7 966.3,773.4 969.1,774.1 C971.9,774.8 974.6,775.5 977,777.4 C979.4,779.2 981.5,782.2 983.5,785.2 C985.5,788.2 987.2,791.0 988.7,795.6 C990.2,800.2 991.6,805.0 992.6,812.6 C993.6,820.2 994.0,839.6 994.6,841.3 C995.2,843.0 995.8,829.5 996.5,823 C997.2,816.5 998.0,807.6 999.1,802.2 C1000.2,796.8 1001.5,793.1 1003,790.4 C1004.5,787.7 1006.5,786.5 1008.3,785.9 C1010.0,785.2 1012.0,785.5 1013.5,786.5 C1015.0,787.5 1016.1,790.0 1017.4,791.7 C1018.7,793.5 1020.0,796.8 1021.3,797 C1022.6,797.2 1023.7,794.5 1025.2,793 C1026.7,791.5 1028.4,788.9 1030.4,787.8 C1032.4,786.7 1035.2,786.9 1037,786.5 C1038.8,786.1 1039.4,786.0 1040.9,785.2 C1042.4,784.5 1044.1,782.9 1046.1,782 C1048.0,781.1 1050.2,780.5 1052.6,780 C1055.0,779.5 1058.2,779.8 1060.4,779.3 C1062.6,778.8 1063.8,777.6 1065.6,776.7 C1067.3,775.8 1068.7,775.0 1070.9,774.1 C1073.2,773.2 1075.4,772.2 1079.1,771.5 C1082.8,770.8 1086.3,770.1 1092.8,769.6 C1099.3,769.1 1109.1,768.6 1118.2,768.6 C1127.3,768.6 1137.5,769.4 1147.6,769.6 C1157.6,769.8 1173.3,769.6 1178.5,769.6" fill="none" stroke="#ff0000" stroke-width="4.1" stroke-linejoin="round" />
<line x1="895.4" y1="965.2" x2="954.5" y2="965.2" stroke="#ff0000" stroke-width="3.6"/>
<line x1="895.4" y1="1003.4" x2="954.5" y2="1003.4" stroke="#000" stroke-width="3.6"/>
<line x1="896.3" y1="1042.2" x2="949" y2="1042.2" stroke="#ff0000" stroke-width="3.6" stroke-dasharray="0 8.35" stroke-linecap="round"/>
<line x1="896.3" y1="1080.8" x2="949" y2="1080.8" stroke="#000" stroke-width="3.8" stroke-dasharray="0 8.35" stroke-linecap="round"/>
<text x="960.5" y="971.7" font-family='"Liberation Serif", serif' font-size="21" font-weight="bold" fill="#000" textLength="178" lengthAdjust="spacingAndGlyphs">EM_Simulated S11</text>
<text x="960.5" y="1010.2" font-family='"Liberation Serif", serif' font-size="21" font-weight="bold" fill="#000" textLength="178" lengthAdjust="spacingAndGlyphs">EM_Simulated S21</text>
<text x="960.5" y="1049.6" font-family='"Liberation Serif", serif' font-size="21" font-weight="bold" fill="#000" textLength="210.5" lengthAdjust="spacingAndGlyphs">Circuit_Simulated S11</text>
<text x="960.5" y="1088.1" font-family='"Liberation Serif", serif' font-size="21" font-weight="bold" fill="#000" textLength="210.5" lengthAdjust="spacingAndGlyphs">Circuit_Simulated S21</text>
<text x="613" y="771.9" font-family='"Liberation Serif", serif' font-size="26.5" font-weight="bold" fill="#000" text-anchor="end">0</text>
<text x="613" y="833.5" font-family='"Liberation Serif", serif' font-size="26.5" font-weight="bold" fill="#000" text-anchor="end">-20</text>
<text x="613" y="893.2" font-family='"Liberation Serif", serif' font-size="26.5" font-weight="bold" fill="#000" text-anchor="end">-40</text>
<text x="613" y="953.2" font-family='"Liberation Serif", serif' font-size="26.5" font-weight="bold" fill="#000" text-anchor="end">-60</text>
<text x="613" y="1012.8" font-family='"Liberation Serif", serif' font-size="26.5" font-weight="bold" fill="#000" text-anchor="end">-80</text>
<text x="613" y="1074.1" font-family='"Liberation Serif", serif' font-size="26.5" font-weight="bold" fill="#000" text-anchor="end">-100</text>
<text x="613" y="1133.6" font-family='"Liberation Serif", serif' font-size="26.5" font-weight="bold" fill="#000" text-anchor="end">-120</text>
<text x="635.0" y="1173.6" font-family='"Liberation Serif", serif' font-size="26" font-weight="bold" fill="#000" text-anchor="middle">0</text>
<text x="742.5" y="1173.6" font-family='"Liberation Serif", serif' font-size="26" font-weight="bold" fill="#000" text-anchor="middle">3</text>
<text x="851.4" y="1173.6" font-family='"Liberation Serif", serif' font-size="26" font-weight="bold" fill="#000" text-anchor="middle">6</text>
<text x="959.5" y="1173.6" font-family='"Liberation Serif", serif' font-size="26" font-weight="bold" fill="#000" text-anchor="middle">9</text>
<text x="1067.1" y="1173.6" font-family='"Liberation Serif", serif' font-size="26" font-weight="bold" fill="#000" text-anchor="middle">12</text>
<text x="1175.8" y="1173.6" font-family='"Liberation Serif", serif' font-size="26" font-weight="bold" fill="#000" text-anchor="middle">15</text>
<text x="798.8" y="1217.9" font-family='"Liberation Serif", serif' font-size="30" font-weight="bold" fill="#000" textLength="225.5" lengthAdjust="spacingAndGlyphs">Frequency (GHz)</text>
<text transform="translate(551.5,945) rotate(-90)" x="0" y="0" font-family='"Liberation Serif", serif' font-size="31.5" font-weight="bold" fill="#000" textLength="39.5" lengthAdjust="spacingAndGlyphs">dB</text>
<text x="505" y="759.2" font-family='"Liberation Sans", Arial, sans-serif' font-size="41.5" font-weight="bold" fill="#000" textLength="58" lengthAdjust="spacingAndGlyphs">(B)</text>
</g>
</svg>
</body></html>
